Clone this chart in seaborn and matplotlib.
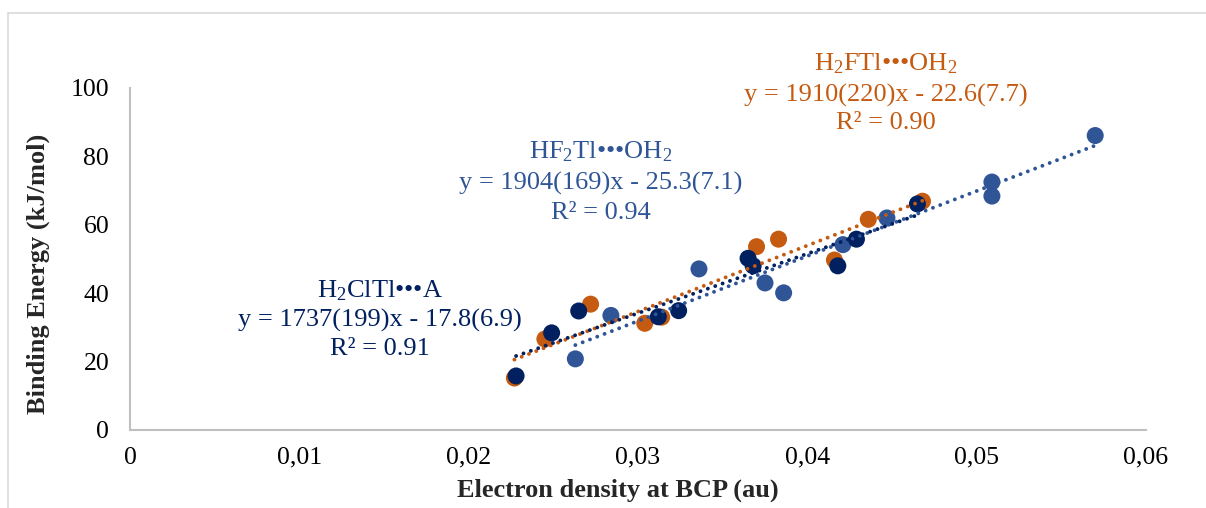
import numpy as np
import pandas as pd
import matplotlib
matplotlib.use("Agg")
import matplotlib.pyplot as plt
import seaborn as sns
from matplotlib.lines import Line2D

# ---- data ----
navy_x = [0.0228, 0.0249, 0.0265, 0.0312, 0.0324, 0.0365, 0.0368, 0.0418, 0.0429, 0.0465]
navy_y = [15.8, 28.4, 34.8, 33.1, 34.9, 50.2, 48.0, 48.0, 55.8, 66.1]

orange_x = [0.0227, 0.0245, 0.0272, 0.0304, 0.0314, 0.0370, 0.0383, 0.0416, 0.0436, 0.0468]
orange_y = [15.2, 26.6, 36.8, 31.2, 33.0, 53.6, 55.8, 49.7, 61.6, 66.9]

blue_x = [0.0263, 0.0284, 0.0336, 0.0375, 0.0386, 0.0421, 0.0447, 0.0509, 0.0509, 0.0570]
blue_y = [20.8, 33.5, 47.1, 43.0, 40.1, 54.2, 62.0, 72.5, 68.4, 86.1]

series_names = ["HF2Tl•••OH2", "H2FTl•••OH2", "H2ClTl•••A"]
series_colors = ["#2F5597", "#C55A11", "#002060"]

x_ticks = [0, 0.01, 0.02, 0.03, 0.04, 0.05, 0.06]
x_tick_labels = ["0", "0,01", "0,02", "0,03", "0,04", "0,05", "0,06"]
y_ticks = [0, 20, 40, 60, 80, 100]
y_tick_labels = ["0", "20", "40", "60", "80", "100"]

label_titles = [r"HF$_\mathrm{2}$Tl•••OH$_\mathrm{2}$",
                r"H$_\mathrm{2}$FTl•••OH$_\mathrm{2}$",
                r"H$_\mathrm{2}$ClTl•••A"]
label_eqs = ["y = 1904(169)x - 25.3(7.1)",
             "y = 1910(220)x - 22.6(7.7)",
             "y = 1737(199)x - 17.8(6.9)"]
label_r2 = ["R² = 0.94", "R² = 0.90", "R² = 0.91"]

# ---- build long table ----
df = pd.concat([
    pd.DataFrame({"x": blue_x, "y": blue_y, "s": series_names[0]}),
    pd.DataFrame({"x": orange_x, "y": orange_y, "s": series_names[1]}),
    pd.DataFrame({"x": navy_x, "y": navy_y, "s": series_names[2]}),
], ignore_index=True)

sns.set_theme(style="white")
plt.rcParams["font.family"] = ["Liberation Serif", "DejaVu Serif"]
plt.rcParams["mathtext.fontset"] = "custom"
plt.rcParams["mathtext.rm"] = "Liberation Serif"
plt.rcParams["mathtext.it"] = "Liberation Serif:italic"
plt.rcParams["mathtext.bf"] = "Liberation Serif:bold"

fig = plt.figure(figsize=(12.06, 5.08), dpi=100)
ax = fig.add_axes([130 / 1206, 1 - 430 / 508, (1146 - 130) / 1206, (430 - 88) / 508])

palette = dict(zip(series_names, series_colors))
sns.scatterplot(data=df, x="x", y="y", hue="s", hue_order=series_names,
                palette=palette, s=150, edgecolor="none", linewidth=0,
                legend=False, ax=ax, zorder=2)

for name, col in zip(series_names, series_colors):
    sub = df[df["s"] == name]
    sns.regplot(data=sub, x="x", y="y", scatter=False, ci=None, truncate=True,
                ax=ax, color=col,
                line_kws=dict(linewidth=2.8, linestyle=(0, (0.01, 2.0)),
                              dash_capstyle="round", zorder=3))

ax.set_xlim(0, 0.06)
ax.set_ylim(0, 100)
ax.set_xticks(x_ticks)
ax.set_xticklabels(x_tick_labels)
ax.set_yticks(y_ticks)
ax.set_yticklabels(y_tick_labels)
ax.tick_params(axis="x", length=0, pad=12, labelsize=18.5, colors="black")
ax.tick_params(axis="y", length=0, pad=15, labelsize=18.5, colors="black")

for sp in ["top", "right"]:
    ax.spines[sp].set_visible(False)
for sp in ["left", "bottom"]:
    ax.spines[sp].set_color("#bfbfbf")
    ax.spines[sp].set_linewidth(1.5)
ax.grid(False)

ax.set_xlabel("Electron density at BCP (au)", fontsize=19, fontweight="bold")
ax.set_ylabel("Binding Energy (kJ/mol)", fontsize=19, fontweight="bold")
# label placement in axes fraction (from reference pixel layout)
ax.xaxis.set_label_coords((618 - 130) / 1016, -(490 - 430) / 342)
ax.yaxis.set_label_coords(-(130 - 38) / 1016, (430 - 274) / 342)
ax.xaxis.label.set_va("center")
ax.yaxis.label.set_va("center")

# ---- annotations (pixel layout -> data coords) ----
def px2data(px, py):
    return (px - 130) / 1016 * 0.06, (430 - py) / 342 * 100

label_pos = [(601, [152, 183, 213]), (886, [64, 95, 123]), (380, [291, 320, 349])]
for i, (cx, ys) in enumerate(label_pos):
    for txt, py in zip([label_titles[i], label_eqs[i], label_r2[i]], ys):
        dx, dy = px2data(cx, py)
        ax.text(dx, dy, txt, ha="center", va="center", fontsize=19,
                color=series_colors[i], clip_on=False)

# outer chart frame
fig.add_artist(Line2D([8 / 1206, 1.0], [1 - 13 / 508, 1 - 13 / 508],
                      transform=fig.transFigure, color="#d9d9d9", lw=1.2))
fig.add_artist(Line2D([8 / 1206, 8 / 1206], [0, 1 - 13 / 508],
                      transform=fig.transFigure, color="#d9d9d9", lw=1.2))

fig.savefig("out.png", dpi=100, facecolor="white")
